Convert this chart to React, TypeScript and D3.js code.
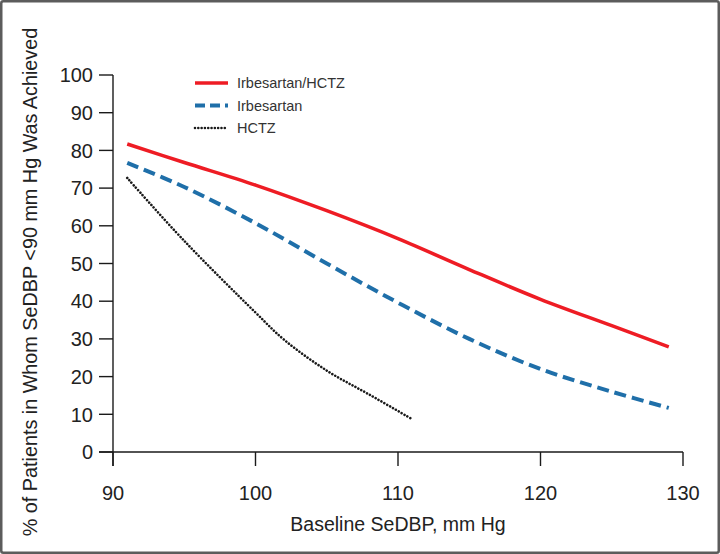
import React from "react";
import * as d3 from "d3";

const seriesNames = ["Irbesartan/HCTZ", "Irbesartan", "HCTZ"];
const comboX = [91, 95, 100, 105, 110, 115, 120, 125, 129];
const comboY = [81.7, 76.8, 70.8, 64.0, 56.6, 48.4, 40.5, 33.5, 27.9];
const irbX = [91, 95, 100, 105, 110, 115, 120, 125, 129];
const irbY = [76.7, 70.3, 60.7, 50.0, 39.6, 30.0, 22.0, 16.0, 11.7];
const hctzX = [91, 95, 100, 102, 105, 108, 111];
const hctzY = [72.7, 56, 37, 29.8, 21.6, 15.2, 8.7];
const xTicks = [90, 100, 110, 120, 130];
const yTicks = [0, 10, 20, 30, 40, 50, 60, 70, 80, 90, 100];
const xTitle = "Baseline SeDBP, mm Hg";
const yTitle = "% of Patients in Whom SeDBP <90 mm Hg Was Achieved";

const W = 720;
const H = 554;
const FONT = "'Liberation Sans', Arial, sans-serif";

export default function App() {
  const x = d3.scaleLinear().domain([90, 130]).range([113, 683]);
  const y = d3.scaleLinear().domain([0, 100]).range([452, 75]);
  const line = d3
    .line<[number, number]>()
    .x((d) => x(d[0]))
    .y((d) => y(d[1]))
    .curve(d3.curveCatmullRom.alpha(0.5));

  const series = [
    { name: seriesNames[0], xs: comboX, ys: comboY, color: "#ee1c24", width: 3.5, dash: "", cap: "butt", lgDash: "" },
    { name: seriesNames[1], xs: irbX, ys: irbY, color: "#1f6fa9", width: 4, dash: "12 6", cap: "butt", lgDash: "10 5" },
    { name: seriesNames[2], xs: hctzX, ys: hctzY, color: "#1a1a1a", width: 2.6, dash: "0.01 3.3", cap: "round", lgDash: "0.01 3.3" },
  ];

  const tickLen = 14;

  return (
    <svg
      width={W}
      height={H}
      style={{ position: "absolute", left: 0, top: 0, background: "#fff" }}
      fontFamily={FONT}
    >
      <rect x={1.25} y={1.25} width={W - 2.5} height={H - 2.5} fill="#fff" stroke="#5c5c5c" strokeWidth={2.5} rx={2} />
      {/* axes */}
      <line x1={x(90)} x2={x(90)} y1={y(100)} y2={y(0) + tickLen} stroke="#1a1a1a" strokeWidth={1.4} />
      <line x1={x(90) - tickLen} x2={x(130)} y1={y(0)} y2={y(0)} stroke="#1a1a1a" strokeWidth={1.4} />
      {yTicks.map((t) => (
        <g key={"y" + t}>
          <line x1={x(90) - tickLen} x2={x(90)} y1={y(t)} y2={y(t)} stroke="#1a1a1a" strokeWidth={1.4} />
          <text x={93} y={y(t)} dy="0.36em" textAnchor="end" fontSize={20} fill="#222">
            {t}
          </text>
        </g>
      ))}
      {xTicks.map((t) => (
        <g key={"x" + t}>
          <line x1={x(t)} x2={x(t)} y1={y(0)} y2={y(0) + tickLen} stroke="#1a1a1a" strokeWidth={1.4} />
          <text x={x(t)} y={500} textAnchor="middle" fontSize={20} fill="#222">
            {t}
          </text>
        </g>
      ))}
      <text x={398} y={531} textAnchor="middle" fontSize={19.5} fill="#222">
        {xTitle}
      </text>
      <text
        transform={`translate(37, 282) rotate(-90)`}
        textAnchor="middle"
        fontSize={19.8}
        fill="#222"
      >
        {yTitle}
      </text>
      {/* lines */}
      {series.map((s) => (
        <path
          key={s.name}
          d={line(s.xs.map((v, i) => [v, s.ys[i]] as [number, number])) || ""}
          fill="none"
          stroke={s.color}
          strokeWidth={s.width}
          strokeDasharray={s.dash || undefined}
          strokeLinecap={s.cap as any}
        />
      ))}
      {/* legend */}
      {series.map((s, i) => (
        <g key={"lg" + s.name} transform={`translate(195, ${83 + i * 22.5})`}>
          <line
            x1={0}
            x2={33}
            y1={0}
            y2={0}
            stroke={s.color}
            strokeWidth={s.width}
            strokeDasharray={s.lgDash || undefined}
            strokeLinecap={s.cap as any}
          />
          <text x={42} y={0} dy="0.36em" fontSize={14.5} fill="#333">
            {s.name}
          </text>
        </g>
      ))}
    </svg>
  );
}
